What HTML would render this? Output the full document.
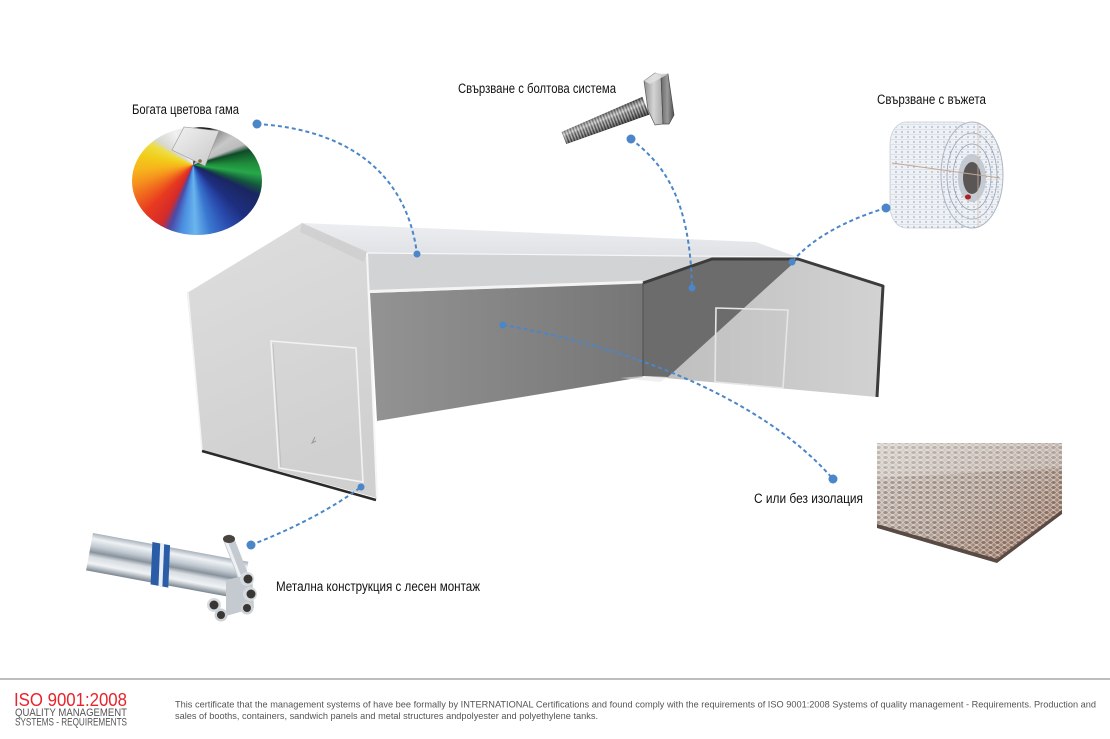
<!DOCTYPE html>
<html><head><meta charset="utf-8"><style>
html,body{margin:0;padding:0;background:#fff;}
#wrap{position:relative;width:1110px;height:739px;overflow:hidden;background:#fff;}
#fan{position:absolute;left:132px;top:127px;width:130px;height:108px;border-radius:50%;
background:conic-gradient(from 0deg at 47% 35%, #e5e5e5 0deg, #2a2a2a 10deg, #1a1a1a 25deg, #8a8a8a 35deg, #c8c8c8 55deg, #bcbcbc 68deg, #0f4a28 75deg, #1f8a3a 88deg, #27a84a 98deg, #14563c 108deg, #1a2660 115deg, #1e2f80 135deg, #2a4db0 150deg, #3a78d0 165deg, #6ab4ee 178deg, #4a8ee0 190deg, #4a4aa8 200deg, #d42a2a 208deg, #e83a20 225deg, #f06a1e 240deg, #f5921e 252deg, #f7b41c 265deg, #f2cc1a 280deg, #eedd40 295deg, #d8d8d4 305deg, #f0f0f0 330deg, #e5e5e5 360deg);}
svg{position:absolute;left:0;top:0;}
</style></head><body><div id="wrap">
<div id="fan"></div>
<svg width="1110" height="739" viewBox="0 0 1110 739" xmlns="http://www.w3.org/2000/svg" font-family="'Liberation Sans', sans-serif">
<defs>
  <linearGradient id="leftwall" x1="0" y1="0" x2="0.3" y2="1">
    <stop offset="0" stop-color="#dedede"/><stop offset="1" stop-color="#d0d0d0"/>
  </linearGradient>
  <linearGradient id="backwall" x1="0" y1="0" x2="1" y2="0">
    <stop offset="0" stop-color="#939393"/><stop offset="1" stop-color="#767676"/>
  </linearGradient>
  <linearGradient id="roof" x1="0" y1="0" x2="0" y2="1">
    <stop offset="0" stop-color="#eceef1"/><stop offset="1" stop-color="#dfe1e5"/>
  </linearGradient>
  <linearGradient id="rwall" x1="0" y1="0" x2="1" y2="0">
    <stop offset="0" stop-color="#bdbdbd"/><stop offset="1" stop-color="#d2d2d2"/>
  </linearGradient>
  <linearGradient id="thread" gradientUnits="userSpaceOnUse" x1="0" y1="0" x2="3" y2="0" spreadMethod="repeat">
    <stop offset="0" stop-color="#4a4a4a"/><stop offset="0.5" stop-color="#e0e0e0"/><stop offset="1" stop-color="#4a4a4a"/>
  </linearGradient>
  <linearGradient id="cyl" x1="0" y1="0" x2="0" y2="1">
    <stop offset="0" stop-color="#000" stop-opacity="0.55"/><stop offset="0.35" stop-color="#fff" stop-opacity="0.35"/>
    <stop offset="0.6" stop-color="#000" stop-opacity="0.1"/><stop offset="1" stop-color="#000" stop-opacity="0.6"/>
  </linearGradient>
  <linearGradient id="headL" x1="0" y1="0" x2="1" y2="0">
    <stop offset="0" stop-color="#8e8e8e"/><stop offset="0.5" stop-color="#d4d4d4"/><stop offset="1" stop-color="#a8a8a8"/>
  </linearGradient>
  <linearGradient id="headR" x1="0" y1="0" x2="1" y2="0">
    <stop offset="0" stop-color="#6a6a6a"/><stop offset="0.5" stop-color="#9a9a9a"/><stop offset="1" stop-color="#4e4e4e"/>
  </linearGradient>
  <linearGradient id="pipe" x1="0" y1="0" x2="0" y2="1">
    <stop offset="0" stop-color="#a8b2bc"/><stop offset="0.15" stop-color="#eef2f5"/><stop offset="0.35" stop-color="#c0c8d0"/>
    <stop offset="0.5" stop-color="#8a949e"/><stop offset="0.62" stop-color="#d8dde2"/><stop offset="0.8" stop-color="#f0f3f5"/><stop offset="1" stop-color="#7a848e"/>
  </linearGradient>
  <linearGradient id="insul" x1="0" y1="0" x2="1" y2="1">
    <stop offset="0" stop-color="#d2cec9"/><stop offset="0.5" stop-color="#b0a298"/><stop offset="1" stop-color="#8e6450"/>
  </linearGradient>
  <pattern id="cells" width="7" height="5" patternUnits="userSpaceOnUse">
    <ellipse cx="3.5" cy="2.5" rx="2.8" ry="1.9" fill="#5e4438" fill-opacity="0.3" stroke="#fbf6f0" stroke-opacity="0.7" stroke-width="0.8"/>
  </pattern>
  <pattern id="ropep" width="6" height="5" patternUnits="userSpaceOnUse">
    <rect width="6" height="5" fill="#eef1f6"/>
    <circle cx="2" cy="2" r="0.6" fill="#5d6f88"/>
    <line x1="0" y1="4.5" x2="6" y2="4.5" stroke="#d2d8e0" stroke-width="0.6"/>
  </pattern>
  <linearGradient id="card" x1="0" y1="0" x2="1" y2="1">
    <stop offset="0" stop-color="#f2f2f2"/><stop offset="1" stop-color="#c8c8c8"/>
  </linearGradient>
</defs>

<!-- color fan card -->
<polygon points="172,150 184,127 219,131 205,166" fill="url(#card)" stroke="#999" stroke-width="0.6"/>
<circle cx="200" cy="161" r="1.8" fill="#8a6a3a"/>

<!-- building: back wall -->
<polygon points="370,293 643,283 643,377 377,421" fill="url(#backwall)"/>
<!-- eave band -->
<polygon points="366,253 797,257 643,283 370,293" fill="#d2d3d5"/>
<line x1="370" y1="291.5" x2="643" y2="282" stroke="#f4f4f4" stroke-width="3"/>
<!-- roof -->
<polygon points="302,223 756,242 797,257 366,253" fill="url(#roof)"/>
<line x1="366" y1="253" x2="797" y2="257" stroke="#f6f7f8" stroke-width="1.2"/>
<!-- right wall -->
<polygon points="643,282 712,259 798,259 883,286 877,397 643,376" fill="url(#rwall)"/>
<polygon points="643,282 712,259 798,259 668,377 643,376" fill="#6c6c6c"/>
<polygon points="643,376 668,377 660,382 620,378" fill="#e6e6e6" opacity="0.6"/>
<polygon points="716,308 788,310 783,388 715,382" fill="none" stroke="#e6e6e6" stroke-width="1.6"/>
<line x1="750" y1="311" x2="749" y2="385" stroke="#c6c6c6" stroke-width="0.8"/>
<polyline points="643,283 712,259 798,259 883,286 877,397" fill="none" stroke="#3c3c3c" stroke-width="3" stroke-linejoin="round"/>
<line x1="643" y1="283" x2="643" y2="376" stroke="#555" stroke-width="1.2"/>

<!-- left wall -->
<polygon points="187,293 302,223 367,252 377,498 202,450" fill="url(#leftwall)"/>
<polygon points="302,223 367,252 364,262 300,232" fill="#c8c8c8" opacity="0.55"/>
<line x1="188" y1="293" x2="202" y2="450" stroke="#f4f4f4" stroke-width="1.5"/>
<line x1="367" y1="253" x2="377" y2="497" stroke="#f6f6f6" stroke-width="2"/>
<line x1="202" y1="451" x2="376" y2="500" stroke="#2a2a2a" stroke-width="2.5"/>
<polygon points="271,341 356,348 363,482 279,468" fill="none" stroke="#f2f2f2" stroke-width="1.6"/>
<line x1="273" y1="344" x2="281" y2="467" stroke="#bdbdbd" stroke-width="0.8"/>
<path d="M315,437 l-3,6 l4,-2" fill="none" stroke="#999" stroke-width="1"/>

<!-- bolt -->
<g transform="translate(564,138) rotate(-21.5)">
  <polygon points="0,-6.5 88,-9.5 88,9.5 0,6.5" fill="url(#thread)"/>
  <polygon points="0,-6.5 88,-9.5 88,9.5 0,6.5" fill="url(#cyl)"/>
</g>
<polygon points="644,81 655,73 661,75 663,124 655,125 648,110" fill="url(#headL)" stroke="#5a5a5a" stroke-width="0.7"/>
<polygon points="661,75 668,74 674,115 669,124 663,124" fill="url(#headR)" stroke="#4a4a4a" stroke-width="0.7"/>
<polygon points="644,81 655,73 668,74 661,78 650,84" fill="#e4e4e4" opacity="0.8"/>

<!-- rope -->
<rect x="890" y="122" width="86" height="106" rx="16" ry="22" fill="url(#ropep)"/>
<rect x="890" y="122" width="86" height="106" rx="16" ry="22" fill="none" stroke="#c8ced8" stroke-width="0.8"/>
<ellipse cx="972" cy="175" rx="31" ry="53" fill="url(#ropep)" stroke="#aeb6c2" stroke-width="1"/>
<ellipse cx="972" cy="176" rx="25" ry="43" fill="none" stroke="#9aa4b2" stroke-width="0.8"/>
<ellipse cx="972" cy="177" rx="19" ry="33" fill="none" stroke="#9aa4b2" stroke-width="0.8"/>
<ellipse cx="972" cy="178" rx="14" ry="24" fill="#c4cad2"/>
<ellipse cx="972" cy="178" rx="9" ry="16" fill="#5a5656"/>
<ellipse cx="968" cy="197" rx="3" ry="2.5" fill="#b02020"/>
<line x1="892" y1="163" x2="1000" y2="178" stroke="#c7a890" stroke-width="1"/>
<line x1="978" y1="122" x2="978" y2="228" stroke="#d0b8a8" stroke-width="0.7"/>

<!-- pipe -->
<g transform="translate(93,533) rotate(10.5)">
  <rect x="0" y="0" width="158" height="38" fill="url(#pipe)"/>
  <line x1="0" y1="19" x2="158" y2="19" stroke="#8a949e" stroke-width="1"/>
  <polygon points="60,-2 78,-2 84,40 66,40" fill="#2b5ca8"/>
  <polygon points="68,-2 72,-2 78,40 74,40" fill="#e8eef6"/>
</g>
<line x1="229" y1="540" x2="243" y2="576" stroke="#c4cad0" stroke-width="11" stroke-linecap="round"/>
<line x1="226" y1="541" x2="240" y2="577" stroke="#eef1f4" stroke-width="3"/>
<ellipse cx="229" cy="539" rx="6" ry="4" fill="#4a4440"/>
<polygon points="226,580 252,574 254,608 226,616" fill="#c4cad0"/>
<circle cx="247" cy="579" r="7" fill="#d6dbe0"/><circle cx="248" cy="579" r="4.5" fill="#3a3634"/>
<circle cx="250" cy="594" r="7" fill="#d6dbe0"/><circle cx="251" cy="594" r="4.5" fill="#3a3634"/>
<circle cx="214" cy="605" r="7" fill="#d6dbe0"/><circle cx="214" cy="605" r="4.5" fill="#3a3634"/>
<circle cx="221" cy="615" r="6.5" fill="#ccd1d6"/><circle cx="221" cy="615" r="4" fill="#3a3634"/>
<circle cx="247" cy="608" r="6.5" fill="#ccd1d6"/><circle cx="247" cy="608" r="4" fill="#3a3634"/>

<!-- insulation -->
<polygon points="877,443 1062,443 1062,512 997,562 877,527" fill="url(#insul)"/>
<polygon points="877,443 1062,443 1062,512 997,562 877,527" fill="url(#cells)"/>
<polygon points="877,443 1062,443 1062,468 877,478" fill="#eeece8" opacity="0.3"/>
<polygon points="877,524 997,559 1062,510 1062,514 997,563 877,528" fill="#5a4a44"/>

<!-- connectors -->
<g fill="none" stroke="#4a86c8" stroke-width="2" stroke-dasharray="4 3">
  <path d="M257,124 C330,128 405,160 417,254"/>
  <path d="M631,139 C665,165 690,200 692,288"/>
  <path d="M886,208 C845,220 810,240 792,262"/>
  <path d="M503,325 C620,345 760,395 833,479"/>
  <path d="M251,545 C290,530 330,510 361,487"/>
</g>
<g fill="#4a86c8">
  <circle cx="257" cy="124" r="4.5"/><circle cx="417" cy="254" r="3.5"/>
  <circle cx="631" cy="139" r="4.5"/><circle cx="692" cy="288" r="3.5"/>
  <circle cx="886" cy="208" r="4.5"/><circle cx="792" cy="262" r="3.5"/>
  <circle cx="503" cy="325" r="3.5"/><circle cx="833" cy="479" r="4.5"/>
  <circle cx="251" cy="545" r="4.5"/><circle cx="361" cy="487" r="3.5"/>
</g>

<!-- labels -->
<g font-size="13.5" fill="#111">
  <text x="132" y="114" textLength="107" lengthAdjust="spacingAndGlyphs">Богата цветова гама</text>
  <text x="458" y="93" textLength="158" lengthAdjust="spacingAndGlyphs">Свързване с болтова система</text>
  <text x="877" y="104" textLength="109" lengthAdjust="spacingAndGlyphs">Свързване с въжета</text>
  <text x="276" y="591" textLength="204" lengthAdjust="spacingAndGlyphs">Метална конструкция с лесен монтаж</text>
  <text x="754" y="503" textLength="109" lengthAdjust="spacingAndGlyphs">С или без изолация</text>
</g>

<!-- footer -->
<line x1="0" y1="679" x2="1110" y2="679" stroke="#a8a8a8" stroke-width="1.5"/>
<text x="14" y="706" font-size="18" fill="#e8232a" textLength="113" lengthAdjust="spacingAndGlyphs">ISO 9001:2008</text>
<text x="15" y="716" font-size="11" fill="#555" textLength="112" lengthAdjust="spacingAndGlyphs">QUALITY MANAGEMENT</text>
<text x="15" y="725.5" font-size="11" fill="#555" textLength="112" lengthAdjust="spacingAndGlyphs">SYSTEMS - REQUIREMENTS</text>
<g font-size="9.5" fill="#555">
  <text x="175" y="707.5" textLength="921" lengthAdjust="spacingAndGlyphs">This certificate that the management systems of have bee formally by INTERNATIONAL Certifications and found comply with the requirements of ISO 9001:2008 Systems of quality management - Requirements. Production and</text>
  <text x="175" y="719" textLength="423" lengthAdjust="spacingAndGlyphs">sales of booths, containers, sandwich panels and metal structures andpolyester and polyethylene tanks.</text>
</g>
</svg>
</div></body></html>
